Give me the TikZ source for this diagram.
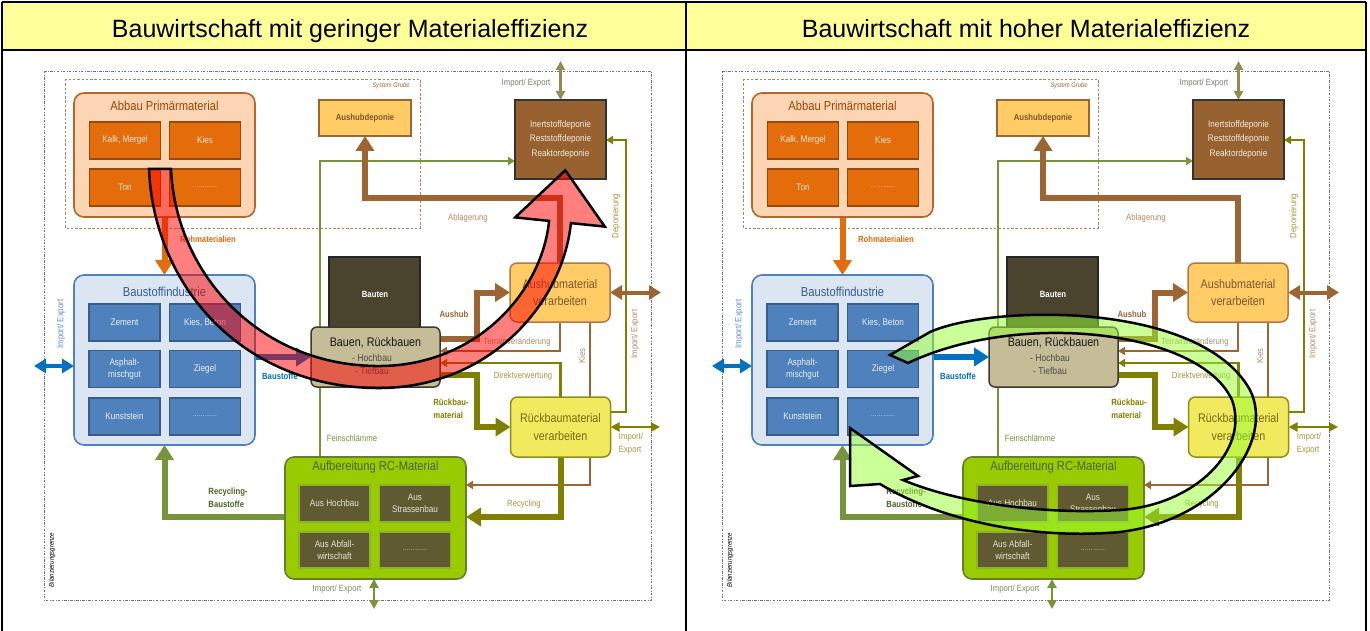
\documentclass[tikz,border=0pt]{standalone}
\usepackage{fontspec}
\setmainfont{Liberation Sans}
\newfontfamily\nar[FakeStretch=0.86]{Liberation Sans}
\usetikzlibrary{arrows.meta}
\pgfdeclarelayer{back}
\pgfdeclarelayer{bg}
\pgfsetlayers{back,bg,main}

\definecolor{hdr}{HTML}{FFFF99}
\definecolor{orD}{HTML}{E46C0A}
\definecolor{orB}{HTML}{984807}
\definecolor{peach}{HTML}{FCD5B5}
\definecolor{peachB}{HTML}{B7652A}
\definecolor{cellOr}{HTML}{FDE9D9}
\definecolor{sand}{HTML}{FFCC66}
\definecolor{brn}{HTML}{9C6634}
\definecolor{brnT}{HTML}{7F5530}
\definecolor{brnL}{HTML}{B48A68}
\definecolor{ausB}{HTML}{B07A45}
\definecolor{depC}{HTML}{97622F}
\definecolor{depT}{HTML}{F2E8DC}
\definecolor{bautenC}{HTML}{4A432E}
\definecolor{bauenC}{HTML}{C4BD97}
\definecolor{bauenB}{HTML}{3D3A2C}
\definecolor{yel}{HTML}{F2EA5E}
\definecolor{olv}{HTML}{808000}
\definecolor{olvB}{HTML}{8F8F10}
\definecolor{olvT}{HTML}{6E6E10}
\definecolor{olvL}{HTML}{9C9C3C}
\definecolor{olvG}{HTML}{948A54}
\definecolor{gryT}{HTML}{807F6A}
\definecolor{gryG}{HTML}{7D8B62}
\definecolor{grn}{HTML}{77933C}
\definecolor{grnD}{HTML}{4F6228}
\definecolor{lime}{HTML}{99CC00}
\definecolor{limeB}{HTML}{66802A}
\definecolor{moss}{HTML}{605A33}
\definecolor{mossB}{HTML}{8DB02E}
\definecolor{cellMs}{HTML}{E4E4D2}
\definecolor{pale}{HTML}{DCE6F2}
\definecolor{blu}{HTML}{4F81BD}
\definecolor{bluB}{HTML}{385D8A}
\definecolor{bluT}{HTML}{345C94}
\definecolor{bluL}{HTML}{5B8FD0}
\definecolor{cellBl}{HTML}{EAF0F8}
\definecolor{arrB}{HTML}{0070C0}
\definecolor{bandGreen}{HTML}{99FF33}

\tikzset{
  every node/.style={inner sep=0pt, outer sep=0pt},
  grp/.style={draw, line width=1.6pt, rounded corners=10pt},
  ttl/.style={font=\nar\fontsize{13}{15}\selectfont},
  cell/.style={draw, line width=1.3pt, minimum width=71pt, minimum height=37pt,
    align=center, font=\nar\fontsize{9.5}{12.5}\selectfont},
  orcell/.style={cell, fill=orD, draw=orB, text=cellOr},
  blcell/.style={cell, fill=blu, draw=bluB, text=cellBl},
  mscell/.style={cell, fill=moss, draw=mossB, text=cellMs},
  proc/.style={line width=1.5pt, rounded corners=7pt, minimum width=100pt,
    minimum height=59pt, align=center, font=\nar\fontsize{12.5}{17.5}\selectfont},
  lbl/.style={font=\nar\fontsize{9}{13}\selectfont},
  lblb/.style={font=\nar\bfseries\fontsize{9}{13}\selectfont},
  frameDD/.style={draw=black!55, line width=0.8pt,
    dash pattern=on 2.5pt off 1.5pt on 0.6pt off 1.5pt},
  frameD/.style={draw=brn!80, line width=0.8pt, dash pattern=on 2.5pt off 1.8pt},
  thk/.style={line width=6pt, draw=#1, -{Triangle[width=18pt,length=15pt]}},
  thn/.style={line width=2.2pt, draw=#1, -{Triangle[width=8pt,length=7pt]}},
  dbl/.style={line width=4pt, draw=#1,
    {Triangle[width=14pt,length=12pt]}-{Triangle[width=14pt,length=12pt]}},
  dbls/.style={line width=2.2pt, draw=#1,
    {Triangle[width=9pt,length=9pt]}-{Triangle[width=9pt,length=9pt]}},
  bandR/.style={fill=red, fill opacity=0.5, draw=black, line width=2.5pt},
  bandG/.style={fill=bandGreen, fill opacity=0.5, draw=black, line width=2.5pt},
}

% one material-flow panel
\newcommand\drawpanel{%
  % quarry subsystem
  \node[grp, fill=peach, draw=peachB, minimum width=181pt, minimum height=124pt] (ab) at (164.5,155) {};
  \node[ttl, text=orB] (abt) at (164.5,106) {Abbau Primärmaterial};
  \node[orcell] (ab1) at (125,140.5) {Kalk, Mergel};
  \node[orcell] (ab2) at (205,140.5) {Kies};
  \node[orcell] (ab3) at (125,187.5) {Ton};
  \node[orcell] (ab4) at (205,187.5) {\fontsize{7}{8}\selectfont …………};
  % building materials industry
  \node[grp, fill=pale, draw=blu, minimum width=181pt, minimum height=170pt] (bi) at (164.5,360) {};
  \node[ttl, text=bluT] (bit) at (164.5,292) {Baustoffindustrie};
  \node[blcell] (bi1) at (124.5,322.5) {Zement};
  \node[blcell] (bi2) at (205,322.5) {Kies, Beton};
  \node[blcell] (bi3) at (124.5,369) {Asphalt-\\mischgut};
  \node[blcell] (bi4) at (205,369) {Ziegel};
  \node[blcell] (bi5) at (124.5,416.5) {Kunststein};
  \node[blcell] (bi6) at (205,416.5) {\fontsize{7}{8}\selectfont …………};
  % landfills
  \node[draw=brn, fill=sand, line width=1.5pt, minimum width=92pt, minimum height=36pt,
        font=\nar\bfseries\fontsize{9}{10}\selectfont, text=brnT] (ad) at (365,118) {Aushubdeponie};
  \node[draw=black!80, fill=depC, line width=1.5pt, minimum width=91pt, minimum height=79pt,
        align=center, font=\nar\fontsize{9.5}{14.5}\selectfont, text=depT] (dp) at (560.5,139.5)
        {Inertstoffdeponie\\Reststoffdeponie\\Reaktordeponie};
  % building stock and construction
  \node[draw=black!85, fill=bautenC, line width=1.5pt, minimum width=91pt, minimum height=73pt] (bt) at (374.5,293.5) {};
  \node[font=\nar\bfseries\fontsize{9}{10}\selectfont, text=white] (btt) at (375,294) {Bauten};
  \node[draw=bauenB, fill=bauenC, line width=1.5pt, rounded corners=6pt, minimum width=129pt, minimum height=60pt] (bau) at (375.5,357) {};
  \node[font=\nar\fontsize{12.5}{14}\selectfont, text=black!90] (bau1) at (375.5,343) {Bauen, Rückbauen};
  \node[font=\nar\fontsize{10}{12}\selectfont, text=black!70] (bau2) at (372,358) {- Hochbau};
  \node[font=\nar\fontsize{10}{12}\selectfont, text=black!70] (bau3) at (372,371) {- Tiefbau};
  % processing
  \node[proc, draw=ausB, fill=sand, text=brnT] (aus) at (560,292.5) {Aushubmaterial\\verarbeiten};
  \node[proc, draw=olvB, fill=yel, text=olvT, minimum height=60pt] (rb) at (560.5,427) {Rückbaumaterial\\verarbeiten};
  \node[grp, fill=lime, draw=limeB, rounded corners=9pt, minimum width=181pt, minimum height=122pt] (rc) at (375.5,518) {};
  \node[ttl, text=grnD] (rct) at (375.5,467) {Aufbereitung RC-Material};
  \node[mscell] (rc1) at (334.5,503.5) {Aus Hochbau};
  \node[mscell] (rc2) at (415,503.5) {Aus\\Strassenbau};
  \node[mscell, minimum height=36pt] (rc3) at (334.5,550) {Aus Abfall-\\wirtschaft};
  \node[mscell, minimum height=36pt] (rc4) at (415,550) {\fontsize{7}{8}\selectfont …………};
  % open ends of the import/export flows
  \coordinate (ie1) at (34,366);
  \coordinate (ie2) at (661,292.5);
  \coordinate (ie3) at (660,427);
  \coordinate (ie4) at (560.5,61);
  \coordinate (ie5) at (374,609);
  % flows, drawn beneath the boxes
  \begin{pgfonlayer}{bg}
    \draw[frameDD] (44,71) rectangle (651,600);
    \draw[frameD] (65,79) rectangle (420,228);
    \draw[thk=orD] (ab.south) -- (bi.north);
    \draw[thk=arrB] (bi.east |- 0,357) -- (bau.west |- 0,357);
    \draw[dbl=arrB] (ie1) -- (bi.west |- ie1);
    \draw[thk=grn] (rc.west |- 0,517) -| (bi.south);
    \draw[thn=grn, line width=2pt] (rc.north -| 320,0) |- (dp.west |- 0,161);
    \draw[thk=brn] (aus.north) -- ++(0,-65) -| (ad.south);
    \draw[thk=brn] (bau.east |- 0,339) -- (477,339) |- (aus.west);
    \draw[thn=brn] (aus.south) |- (bau.east |- 0,351);
    \draw[thn=brn] (aus.south -| 590,0) |- (rc.east |- 0,485);
    \draw[thn=olv] (rb.north) |- (bau.east |- 0,363);
    \draw[thk=olv] (bau.east |- 0,375) -- (477,375) |- (rb.west);
    \draw[thk=olv] (rb.south) |- (rc.east |- 0,517);
    \draw[thn=olv] (rb.east |- 0,412) -- (626,412) |- (dp.east |- 0,140);
    \draw[dbl=brn] (aus.east) -- (ie2);
    \draw[dbls=olv] (rb.east) -- (ie3);
    \draw[dbls=olvG] (dp.north) -- (ie4);
    \draw[dbls=grn] (rc.south -| ie5) -- (ie5);
  \end{pgfonlayer}
  % flow labels
  \node[font=\nar\itshape\fontsize{6.8}{7}\selectfont, text=brn] (sg) at (391,86) {System Grube};
  \node[font=\nar\itshape\fontsize{7}{8}\selectfont, rotate=90] (bg) at (52,560) {Bilanzierungsgrenze};
  \node[lbl, text=gryT] (l1) at (526,83) {Import/ Export};
  \node[lbl, text=brnL] (l2) at (468,218) {Ablagerung};
  \node[lbl, text=olvL, rotate=90] (l3) at (616,216) {Deponierung};
  \node[lblb, text=orD] (l4) at (208,239) {Rohmaterialien};
  \node[lbl, text=bluL, rotate=90] (l5) at (61,324) {Import/ Export};
  \node[lblb, text=arrB] (l6) at (280,376) {Baustoffe};
  \node[lblb, text=brn] (l7) at (454,314) {Aushub};
  \node[lbl, text=brnL] (l8) at (517,342) {Terrainveränderung};
  \node[lbl, text=brnL, rotate=90] (l9) at (582,356) {Kies};
  \node[lbl, text=brnL, rotate=90] (l10) at (635,334) {Import/ Export};
  \node[lbl, text=olvL] (l11) at (523,376) {Direktverwertung};
  \node[lblb, text=olv, align=left] (l12) at (451,409) {Rückbau-\\material};
  \node[lbl, text=olvL, align=left] (l13) at (631,444) {Import/\\Export};
  \node[lbl, text=olvL] (l14) at (524,504) {Recycling};
  \node[lbl, text=grn] (l15) at (352,438) {Feinschlämme};
  \node[lblb, text=grnD, align=left] (l16) at (228,498) {Recycling-\\Baustoffe};
  \node[lbl, text=gryG] (l17) at (337,589) {Import/ Export};
}

\begin{document}
\begin{tikzpicture}[x=1pt, y=-1pt]
  \useasboundingbox (0,0) rectangle (1370,631);
  \begin{pgfonlayer}{back}
    \fill[white] (0,0) rectangle (1370,631);
    \fill[hdr] (2,2) rectangle (1366,50);
  \end{pgfonlayer}
  % table rules
  \draw[line width=1.4pt] (2,2) -- (1366,2);
  \draw[line width=1.4pt] (2,50) -- (1366,50);
  \draw[line width=1.4pt] (2,2) -- (2,631);
  \draw[line width=1.4pt] (686,2) -- (686,631);
  \draw[line width=1.4pt] (1366,2) -- (1366,631);
  \node[anchor=base, font=\fontsize{25}{28}\selectfont] (h1) at (350,38) {Bauwirtschaft mit geringer Materialeffizienz};
  \node[anchor=base, font=\fontsize{25}{28}\selectfont] (h2) at (1026,38) {Bauwirtschaft mit hoher Materialeffizienz};
  % the two panels
  \begin{scope}[name prefix=L-]
    \drawpanel
  \end{scope}
  \begin{scope}[xshift=678pt, name prefix=R-]
    \drawpanel
  \end{scope}
  % linear flow: from extraction through construction to the landfill
  \filldraw[bandR] (149,169) .. controls (154,287) and (242.5,386) .. (375,388)
     .. controls (486.3,390) and (562.4,305.8) .. (570.9,223.1)
     -- (604.8,226.6) -- (565.3,170.3) -- (515.2,217.4) -- (549.1,220.9)
     .. controls (541.6,294.2) and (473.7,367.9) .. (375,366)
     .. controls (257.5,364) and (175.7,273) .. (171,169) -- cycle;
  % material cycle
  \filldraw[bandG] (890,355) -- (930,332)
     .. controls (990,305) and (1200,300) .. (1250,390)
     .. controls (1275,440) and (1220,520) .. (1120,532)
     .. controls (1030,540) and (940,520) .. (880,484)
     -- (850,486) -- (850,428) -- (918,476) -- (903,480)
     .. controls (955,502) and (1040,515) .. (1120,510)
     .. controls (1195,505) and (1250,450) .. (1232,400)
     .. controls (1200,330) and (1020,310) .. (908,363) -- cycle;
\end{tikzpicture}
\end{document}
